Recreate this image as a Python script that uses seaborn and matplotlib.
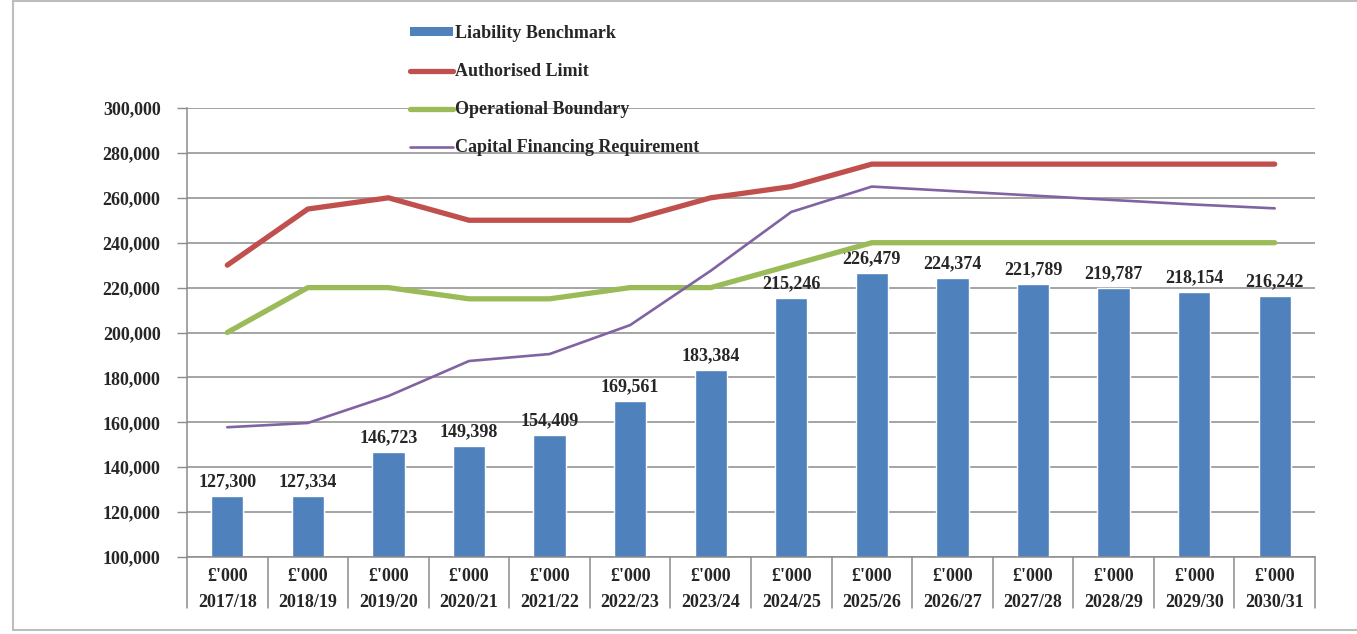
import numpy as np
import seaborn as sns
import matplotlib.pyplot as plt
from matplotlib.lines import Line2D
from matplotlib.patches import Patch
from matplotlib.ticker import FuncFormatter, MultipleLocator

years = ['2017/18', '2018/19', '2019/20', '2020/21', '2021/22', '2022/23', '2023/24',
         '2024/25', '2025/26', '2026/27', '2027/28', '2028/29', '2029/30', '2030/31']
unit_label = "£'000"

liability_benchmark = [127300, 127334, 146723, 149398, 154409, 169561, 183384,
                       215246, 226479, 224374, 221789, 219787, 218154, 216242]
authorised_limit = [230000, 255000, 260000, 250000, 250000, 250000, 260000,
                    265000, 275000, 275000, 275000, 275000, 275000, 275000]
operational_boundary = [200000, 220000, 220000, 215000, 215000, 220000, 220000,
                        230000, 240000, 240000, 240000, 240000, 240000, 240000]
capital_financing = [157800, 159700, 171700, 187300, 190400, 203300, 227500,
                     253700, 265000, 263000, 261000, 259000, 257000, 255300]

BLUE = '#4F81BD'
RED = '#C0504D'
GREEN = '#9BBB59'
PURPLE = '#8064A2'
GRID = '#8C8C8C'
FS = 13

sns.set_style('white')
plt.rcParams['font.family'] = ['Liberation Serif', 'DejaVu Serif']
plt.rcParams['font.weight'] = 'bold'

fig = plt.figure(figsize=(13.57, 6.34), dpi=100)
ax = fig.add_axes([187 / 1357, 1 - 557 / 634, (1315 - 187) / 1357, (557 - 108) / 634])

ax.yaxis.grid(True, color=GRID, linewidth=1.1)
ax.set_axisbelow(True)

sns.barplot(x=years, y=liability_benchmark, color=BLUE, saturation=1, width=0.4, ax=ax, zorder=2)
ax.bar_label(ax.containers[0], labels=[f'{v:,}' for v in liability_benchmark],
             padding=4, fontsize=FS, fontweight='bold')

for vals, col, lw in [(authorised_limit, RED, 3.8), (operational_boundary, GREEN, 3.8),
                      (capital_financing, PURPLE, 1.9)]:
    sns.pointplot(x=years, y=vals, color=col, marker='', linewidth=lw, errorbar=None,
                  ax=ax, solid_capstyle='round', zorder=3)

ax.set_xlim(-0.5, len(years) - 0.5)
ax.set_ylim(100000, 300000)
ax.yaxis.set_major_locator(MultipleLocator(20000))
ax.yaxis.set_major_formatter(FuncFormatter(lambda v, p: f'{int(v):,}'))
ax.tick_params(axis='y', length=7, width=1, color=GRID, labelsize=FS, pad=12, left=True)
ax.set_xticks(range(len(years)))
ax.set_xticklabels([f'{unit_label}\n{y}' for y in years], fontsize=FS,
                   fontweight='bold', linespacing=1.7)
ax.tick_params(axis='x', length=0, pad=8)
for lab in ax.get_yticklabels():
    lab.set_fontweight('bold')
ax.set_xlabel('')
ax.set_ylabel('')

for s in ['top', 'right']:
    ax.spines[s].set_visible(False)
for s in ['left', 'bottom']:
    ax.spines[s].set_color(GRID)
    ax.spines[s].set_linewidth(1.1)

# category separators under the axis
sep_trans = ax.get_xaxis_transform()
for b in np.arange(-0.5, len(years), 1.0):
    ax.plot([b, b], [0, -0.113], color=GRID, linewidth=1.1, transform=sep_trans,
            clip_on=False)

handles = [Patch(facecolor=BLUE, edgecolor='none'),
           Line2D([], [], color=RED, linewidth=3.8, solid_capstyle='round'),
           Line2D([], [], color=GREEN, linewidth=3.8, solid_capstyle='round'),
           Line2D([], [], color=PURPLE, linewidth=1.9)]
labels = ['Liability Benchmark', 'Authorised Limit', 'Operational Boundary',
          'Capital Financing Requirement']
leg = fig.legend(handles, labels, loc='upper left', bbox_to_anchor=(410 / 1357, 1 - 25 / 634),
                 frameon=False, fontsize=FS, handlelength=2.4, handleheight=0.35,
                 handletextpad=0.1, labelspacing=1.17, borderpad=0, borderaxespad=0)
for t in leg.get_texts():
    t.set_fontweight('bold')

# outer chart frame
frame_col = '#BDBDBD'
fig.add_artist(Line2D([13 / 1357, 13 / 1357], [4 / 634, 1.0], color=frame_col, linewidth=1.5))
fig.add_artist(Line2D([13 / 1357, 1.0], [4 / 634, 4 / 634], color=frame_col, linewidth=1.5))
fig.add_artist(Line2D([13 / 1357, 1.0], [1 - 1 / 634, 1 - 1 / 634], color=frame_col, linewidth=1.5))

fig.savefig('out.png', dpi=100)
